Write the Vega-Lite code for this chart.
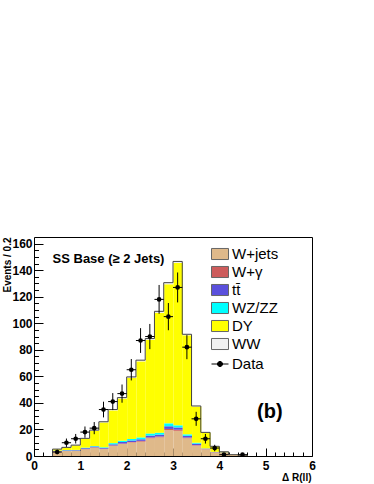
{
  "$schema": "https://vega.github.io/schema/vega-lite/v6.json",
  "autosize": "none",
  "width": 278,
  "height": 219,
  "padding": {"left": 34, "top": 237, "right": 62, "bottom": 28},
  "background": "white",
  "config": {
    "view": {"stroke": "black", "strokeWidth": 1},
    "font": "Liberation Sans",
    "axis": {"grid": false, "domain": false, "tickColor": "black", "labelColor": "black", "labelFont": "Liberation Sans", "labelFontWeight": "bold", "labelFontSize": 12, "labelOverlap": false, "labelFlush": false, "labelBound": false, "titleFont": "Liberation Sans", "titleFontWeight": "bold", "titleFontSize": 10, "titleColor": "black"}
  },
  "resolve": {"axis": {"x": "independent", "y": "independent"}},
  "datasets": {
    "mc": [
      {"x0": 0.4, "x1": 0.6, "W+jets": 3.3, "W+γ": 0.2, "tt̄": 0.3, "WZ/ZZ": 0.2, "DY": 1.1, "WW": 0.1},
      {"x0": 0.6, "x1": 0.8, "W+jets": 3.7, "W+γ": 0.2, "tt̄": 0.4, "WZ/ZZ": 0.2, "DY": 1.8, "WW": 0.2},
      {"x0": 0.8, "x1": 1.0, "W+jets": 3.8, "W+γ": 0.2, "tt̄": 0.4, "WZ/ZZ": 0.2, "DY": 3.4, "WW": 0.2},
      {"x0": 1.0, "x1": 1.2, "W+jets": 5.0, "W+γ": 0.3, "tt̄": 0.6, "WZ/ZZ": 0.4, "DY": 6.7, "WW": 0.3},
      {"x0": 1.2, "x1": 1.4, "W+jets": 6.2, "W+γ": 0.3, "tt̄": 0.6, "WZ/ZZ": 0.4, "DY": 11.6, "WW": 0.4},
      {"x0": 1.4, "x1": 1.6, "W+jets": 5.2, "W+γ": 0.3, "tt̄": 0.6, "WZ/ZZ": 0.5, "DY": 18.7, "WW": 0.5},
      {"x0": 1.6, "x1": 1.8, "W+jets": 7.6, "W+γ": 0.4, "tt̄": 0.8, "WZ/ZZ": 0.9, "DY": 24.7, "WW": 0.6},
      {"x0": 1.8, "x1": 2.0, "W+jets": 9.0, "W+γ": 0.5, "tt̄": 1.0, "WZ/ZZ": 1.0, "DY": 31.8, "WW": 0.7},
      {"x0": 2.0, "x1": 2.2, "W+jets": 10.1, "W+γ": 0.5, "tt̄": 1.1, "WZ/ZZ": 1.1, "DY": 46.0, "WW": 0.8},
      {"x0": 2.2, "x1": 2.4, "W+jets": 10.8, "W+γ": 0.6, "tt̄": 1.2, "WZ/ZZ": 1.4, "DY": 57.3, "WW": 0.9},
      {"x0": 2.4, "x1": 2.6, "W+jets": 13.3, "W+γ": 0.7, "tt̄": 1.4, "WZ/ZZ": 1.6, "DY": 70.5, "WW": 1.0},
      {"x0": 2.6, "x1": 2.8, "W+jets": 14.0, "W+γ": 0.7, "tt̄": 1.4, "WZ/ZZ": 1.5, "DY": 90.3, "WW": 1.1},
      {"x0": 2.8, "x1": 3.0, "W+jets": 19.5, "W+γ": 0.9, "tt̄": 2.0, "WZ/ZZ": 2.2, "DY": 104.8, "WW": 1.2},
      {"x0": 3.0, "x1": 3.2, "W+jets": 19.0, "W+γ": 0.8, "tt̄": 1.7, "WZ/ZZ": 1.6, "DY": 122.3, "WW": 1.2},
      {"x0": 3.2, "x1": 3.4, "W+jets": 13.3, "W+γ": 0.6, "tt̄": 1.3, "WZ/ZZ": 1.1, "DY": 74.6, "WW": 0.8},
      {"x0": 3.4, "x1": 3.6, "W+jets": 7.8, "W+γ": 0.4, "tt̄": 1.1, "WZ/ZZ": 0.7, "DY": 27.3, "WW": 0.4},
      {"x0": 3.6, "x1": 3.8, "W+jets": 5.0, "W+γ": 0.2, "tt̄": 0.4, "WZ/ZZ": 0.1, "DY": 11.9, "WW": 0.2},
      {"x0": 3.8, "x1": 4.0, "W+jets": 2.7, "W+γ": 0.1, "tt̄": 0.2, "WZ/ZZ": 0.1, "DY": 4.1, "WW": 0.1},
      {"x0": 4.0, "x1": 4.2, "W+jets": 2.5, "W+γ": 0.1, "tt̄": 0.1, "WZ/ZZ": 0.1, "DY": 0.3, "WW": 0.1},
      {"x0": 4.2, "x1": 4.4, "W+jets": 0.9, "W+γ": 0, "tt̄": 0, "WZ/ZZ": 0, "DY": 0.1, "WW": 0},
      {"x0": 4.4, "x1": 4.6, "W+jets": 0.5, "W+γ": 0, "tt̄": 0, "WZ/ZZ": 0, "DY": 0.1, "WW": 0}
    ],
    "procs": [
      {"proc": "W+jets", "k": 0}, {"proc": "W+γ", "k": 1}, {"proc": "tt̄", "k": 2},
      {"proc": "WZ/ZZ", "k": 3}, {"proc": "DY", "k": 4}, {"proc": "WW", "k": 5}
    ],
    "outline": [
      {"i": 0, "x": 0.4, "t": 0}, {"i": 1, "x": 0.4, "t": 5.2}, {"i": 2, "x": 0.6, "t": 6.5},
      {"i": 3, "x": 0.8, "t": 8.2}, {"i": 4, "x": 1.0, "t": 13.3}, {"i": 5, "x": 1.2, "t": 19.5},
      {"i": 6, "x": 1.4, "t": 25.8}, {"i": 7, "x": 1.6, "t": 35}, {"i": 8, "x": 1.8, "t": 44},
      {"i": 9, "x": 2.0, "t": 59.6}, {"i": 10, "x": 2.2, "t": 72.2}, {"i": 11, "x": 2.4, "t": 88.5},
      {"i": 12, "x": 2.6, "t": 109}, {"i": 13, "x": 2.8, "t": 130.6}, {"i": 14, "x": 3.0, "t": 146.6},
      {"i": 15, "x": 3.2, "t": 91.7}, {"i": 16, "x": 3.4, "t": 37.7}, {"i": 17, "x": 3.6, "t": 17.8},
      {"i": 18, "x": 3.8, "t": 7.3}, {"i": 19, "x": 4.0, "t": 3.2}, {"i": 20, "x": 4.2, "t": 1.0},
      {"i": 21, "x": 4.4, "t": 0.6}, {"i": 22, "x": 4.6, "t": 0}
    ],
    "obs": [
      {"x": 0.5, "xlo": 0.4, "xhi": 0.6, "n": 3, "lo": 1.27, "hi": 4.73},
      {"x": 0.7, "xlo": 0.6, "xhi": 0.8, "n": 10, "lo": 6.84, "hi": 13.16},
      {"x": 0.9, "xlo": 0.8, "xhi": 1.0, "n": 13, "lo": 9.39, "hi": 16.61},
      {"x": 1.1, "xlo": 1.0, "xhi": 1.2, "n": 18, "lo": 13.76, "hi": 22.24},
      {"x": 1.3, "xlo": 1.2, "xhi": 1.4, "n": 21, "lo": 16.42, "hi": 25.58},
      {"x": 1.5, "xlo": 1.4, "xhi": 1.6, "n": 35, "lo": 29.08, "hi": 40.92},
      {"x": 1.7, "xlo": 1.6, "xhi": 1.8, "n": 41, "lo": 34.6, "hi": 47.4},
      {"x": 1.9, "xlo": 1.8, "xhi": 2.0, "n": 47, "lo": 40.14, "hi": 53.86},
      {"x": 2.1, "xlo": 2.0, "xhi": 2.2, "n": 65, "lo": 56.94, "hi": 73.06},
      {"x": 2.3, "xlo": 2.2, "xhi": 2.4, "n": 87, "lo": 77.67, "hi": 96.33},
      {"x": 2.5, "xlo": 2.4, "xhi": 2.6, "n": 90, "lo": 80.51, "hi": 99.49},
      {"x": 2.7, "xlo": 2.6, "xhi": 2.8, "n": 118, "lo": 107.14, "hi": 128.86},
      {"x": 2.9, "xlo": 2.8, "xhi": 3.0, "n": 105, "lo": 94.75, "hi": 115.25},
      {"x": 3.1, "xlo": 3.0, "xhi": 3.2, "n": 127, "lo": 115.73, "hi": 138.27},
      {"x": 3.3, "xlo": 3.2, "xhi": 3.4, "n": 82, "lo": 72.94, "hi": 91.06},
      {"x": 3.5, "xlo": 3.4, "xhi": 3.6, "n": 28, "lo": 22.71, "hi": 33.29},
      {"x": 3.7, "xlo": 3.6, "xhi": 3.8, "n": 13, "lo": 9.39, "hi": 16.61},
      {"x": 3.9, "xlo": 3.8, "xhi": 4.0, "n": 6, "lo": 3.55, "hi": 8.45},
      {"x": 4.1, "xlo": 4.0, "xhi": 4.2, "n": 1, "lo": 0, "hi": 2},
      {"x": 4.5, "xlo": 4.4, "xhi": 4.6, "n": 1, "lo": 0, "hi": 2}
    ],
    "notes": [
      {"label": "SS Base (≥ 2 Jets)", "x": 0.4, "y": 148.6},
      {"label": "(b)", "x": 5.09, "y": 33.3}
    ]
  },
  "layer": [
    {
      "data": {"name": "mc"},
      "transform": [
        {"fold": ["W+jets", "W+γ", "tt̄", "WZ/ZZ", "DY", "WW"], "as": ["proc", "v"]},
        {"lookup": "proc", "from": {"data": {"name": "procs"}, "key": "proc", "fields": ["k"]}}
      ],
      "mark": {"type": "bar", "binSpacing": 0, "strokeWidth": 0},
      "encoding": {
        "x": {"field": "x0", "type": "quantitative", "bin": "binned",
              "scale": {"domain": [0, 6], "nice": false, "zero": false},
              "axis": {"orient": "bottom", "values": [0, 1, 2, 3, 4, 5, 6], "format": "d",
                       "tickSize": -8, "labelPadding": 12,
                       "title": "Δ R(ll)", "titleAnchor": "end", "titleAlign": "right", "titleBaseline": "middle", "titleX": 277, "titleY": 21}},
        "x2": {"field": "x1"},
        "y": {"field": "v", "type": "quantitative", "stack": "zero",
              "scale": {"domain": [0, 165], "nice": false},
              "axis": {"orient": "left", "values": [0, 20, 40, 60, 80, 100, 120, 140, 160], "format": "d",
                       "tickSize": -9, "labelPadding": 11,
                       "title": "Events / 0.2", "titleAnchor": "end", "titleAlign": "right", "titleBaseline": "middle", "titleAngle": -90, "titleX": -27, "titleY": 0}},
        "order": {"field": "k", "type": "quantitative", "sort": "ascending"},
        "fill": {"field": "proc", "type": "nominal",
                 "scale": {"domain": ["W+jets", "W+γ", "tt̄", "WZ/ZZ", "DY", "WW"], "range": ["#dfb98a", "#cd5c5c", "#5a50dc", "#00ffff", "#ffff00", "#f0f0f0"]},
                 "legend": {"title": null, "orient": "none", "legendX": 177, "legendY": 8, "padding": 0,
                            "symbolType": "M-1,-0.65H1V0.65H-1Z", "symbolSize": 289, "symbolStrokeColor": "#666", "symbolStrokeWidth": 1, "symbolOpacity": 1,
                            "labelFont": "Liberation Sans", "labelFontSize": 15, "labelColor": "black", "labelOffset": 3, "rowPadding": 1}}
      }
    },
    {
      "data": {"name": "outline"},
      "mark": {"type": "line", "interpolate": "step-after", "stroke": "#444", "strokeWidth": 1},
      "encoding": {
        "x": {"field": "x", "type": "quantitative",
              "axis": {"orient": "bottom", "values": [0.2,0.4,0.6,0.8,1.2,1.4,1.6,1.8,2.2,2.4,2.6,2.8,3.2,3.4,3.6,3.8,4.2,4.4,4.6,4.8,5.2,5.4,5.6,5.8],
                       "labels": false, "tickSize": -4, "title": null}},
        "y": {"field": "t", "type": "quantitative",
              "axis": {"orient": "left", "values": [5,10,15,25,30,35,45,50,55,65,70,75,85,90,95,105,110,115,125,130,135,145,150,155],
                       "labels": false, "tickSize": -4.5, "title": null}},
        "order": {"field": "i", "type": "quantitative"}
      }
    },
    {
      "data": {"name": "obs"},
      "mark": {"type": "rule", "stroke": "black", "strokeWidth": 1},
      "encoding": {
        "x": {"field": "x", "type": "quantitative", "axis": null},
        "y": {"field": "lo", "type": "quantitative", "axis": null},
        "y2": {"field": "hi"}
      }
    },
    {
      "data": {"name": "obs"},
      "mark": {"type": "rule", "stroke": "black", "strokeWidth": 1},
      "encoding": {
        "x": {"field": "xlo", "type": "quantitative", "axis": null},
        "x2": {"field": "xhi"},
        "y": {"field": "n", "type": "quantitative", "axis": null}
      }
    },
    {
      "data": {"name": "obs"},
      "mark": {"type": "point", "filled": true, "fill": "black", "size": 22, "opacity": 1, "strokeWidth": 0},
      "encoding": {
        "x": {"field": "x", "type": "quantitative", "axis": null},
        "y": {"field": "n", "type": "quantitative", "axis": null},
        "stroke": {"datum": "Data", "type": "nominal", "scale": {"range": ["black"]},
                   "legend": {"title": null, "orient": "none", "legendX": 177, "legendY": 118, "padding": 0,
                              "symbolType": "M-1,0H1M0.3,0A0.3,0.3 0 1 1 -0.3,0A0.3,0.3 0 1 1 0.3,0Z", "symbolSize": 289,
                              "symbolFillColor": "black", "symbolStrokeColor": "black", "symbolStrokeWidth": 1, "symbolOpacity": 1,
                              "labelFont": "Liberation Sans", "labelFontSize": 15, "labelColor": "black", "labelOffset": 3}}
      }
    },
    {
      "data": {"name": "notes"},
      "transform": [{"filter": "datum.label !== '(b)'"}],
      "mark": {"type": "text", "font": "Liberation Sans", "fontWeight": "bold", "fontSize": 13, "align": "left", "baseline": "middle", "color": "black"},
      "encoding": {"x": {"field": "x", "type": "quantitative", "axis": null}, "y": {"field": "y", "type": "quantitative", "axis": null}, "text": {"field": "label"}}
    },
    {
      "data": {"name": "notes"},
      "transform": [{"filter": "datum.label === '(b)'"}],
      "mark": {"type": "text", "font": "Liberation Sans", "fontWeight": "bold", "fontSize": 20, "align": "center", "baseline": "middle", "color": "black"},
      "encoding": {"x": {"field": "x", "type": "quantitative", "axis": null}, "y": {"field": "y", "type": "quantitative", "axis": null}, "text": {"field": "label"}}
    }
  ]
}
